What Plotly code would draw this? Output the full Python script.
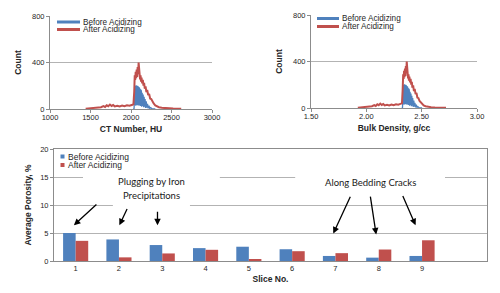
import plotly.graph_objects as go

W, H = 500, 293
BLUE = "#4F81BD"
RED = "#C0504D"
GRID = "#b3b3b3"
AXIS = "#8c8c8c"
TXT = "#262626"
FONT = "Liberation Sans"

# ---------------- data: CT histogram (After Acidizing) ----------------
AFTER_HU = [1440, 1480, 1520, 1560, 1600, 1630, 1660, 1680, 1700, 1720, 1740, 1760,
            1780, 1800, 1830, 1860, 1890, 1920, 1950, 1980, 2010, 2030, 2040, 2046,
            2052, 2058, 2064, 2070, 2076, 2082, 2088, 2094, 2100, 2106, 2112, 2118,
            2124, 2130, 2138, 2146, 2154, 2162, 2170, 2180, 2190, 2200, 2212, 2224,
            2236, 2250, 2265, 2280, 2300, 2320, 2345, 2380, 2420, 2470, 2520, 2570, 2620]
AFTER_DENS = [1.923, 1.950, 1.977, 2.004, 2.031, 2.051, 2.072, 2.085, 2.099, 2.112, 2.126, 2.139,
              2.153, 2.166, 2.187, 2.207, 2.227, 2.247, 2.268, 2.288, 2.308, 2.322, 2.328, 2.333,
              2.337, 2.341, 2.345, 2.349, 2.353, 2.357, 2.361, 2.365, 2.369, 2.373, 2.377, 2.381,
              2.385, 2.389, 2.395, 2.400, 2.406, 2.411, 2.416, 2.423, 2.430, 2.437, 2.445, 2.453,
              2.461, 2.471, 2.481, 2.491, 2.504, 2.518, 2.535, 2.558, 2.585, 2.619, 2.653, 2.687, 2.720]
AFTER_COUNT = [3, 5, 4, 8, 10, 15, 25, 18, 32, 24, 38, 26,
               34, 22, 28, 22, 30, 24, 32, 28, 35, 40, 150, 290,
               250, 320, 265, 340, 275, 360, 300, 400, 305, 330, 255, 290,
               235, 270, 220, 250, 200, 225, 175, 195, 145, 165, 120, 130,
               90, 85, 60, 48, 30, 22, 15, 10, 7, 5, 4, 3, 2]

# ---------------- data: CT histogram (Before Acidizing) ----------------
BEFORE_HU = [2030, 2038, 2044, 2048, 2052, 2056, 2060, 2064, 2068, 2072, 2076, 2080,
             2084, 2088, 2092, 2096, 2100, 2104, 2108, 2112, 2116, 2120, 2124, 2128,
             2132, 2138, 2144, 2150, 2156, 2162, 2168, 2174, 2180, 2188, 2196, 2204,
             2212, 2222, 2232, 2244, 2258, 2275, 2300]
BEFORE_DENS = [2.322, 2.327, 2.331, 2.334, 2.337, 2.339, 2.342, 2.345, 2.347, 2.350, 2.353, 2.355,
               2.358, 2.361, 2.364, 2.366, 2.369, 2.372, 2.374, 2.377, 2.380, 2.383, 2.385, 2.388,
               2.391, 2.395, 2.399, 2.403, 2.407, 2.411, 2.415, 2.419, 2.423, 2.429, 2.434, 2.439,
               2.445, 2.452, 2.458, 2.466, 2.476, 2.487, 2.504]
BEFORE_COUNT = [0, 5, 120, 200, 40, 205, 30, 205, 45, 200, 35, 200,
                40, 195, 30, 190, 35, 185, 30, 175, 25, 165, 30, 155,
                20, 140, 25, 125, 15, 105, 20, 85, 10, 65, 12, 45,
                6, 28, 4, 12, 3, 2, 0]

# ---------------- data: porosity per slice ----------------
SLICE_NUM = [1, 2, 3, 4, 5, 6, 7, 8, 9]
SLICE_LABELS = ["1", "2", "3", "4", "5", "6", "7", "8", "9"]
POROSITY_BEFORE = [5.0, 3.85, 2.85, 2.3, 2.55, 2.1, 0.9, 0.6, 0.9]
POROSITY_AFTER = [3.6, 0.65, 1.35, 2.0, 0.3, 1.75, 1.4, 2.05, 3.7]
SERIES_NAMES = ["Before Acidizing", "After Acidizing"]

OFF = 8  # page body offset of the screenshot


def px(x):
    return (x - OFF) / W


def py(y):
    return 1 - (y - OFF) / H


fig = go.Figure()

# top-left: CT number
fig.add_trace(go.Scatter(x=BEFORE_HU, y=BEFORE_COUNT, mode="lines", name=SERIES_NAMES[0],
                         line=dict(color=BLUE, width=1.3), xaxis="x", yaxis="y", showlegend=False))
fig.add_trace(go.Scatter(x=AFTER_HU, y=AFTER_COUNT, mode="lines", name=SERIES_NAMES[1],
                         line=dict(color=RED, width=2), xaxis="x", yaxis="y", showlegend=False))
# top-right: bulk density
fig.add_trace(go.Scatter(x=BEFORE_DENS, y=BEFORE_COUNT, mode="lines", name=SERIES_NAMES[0],
                         line=dict(color=BLUE, width=1.3), xaxis="x2", yaxis="y2", showlegend=False))
fig.add_trace(go.Scatter(x=AFTER_DENS, y=AFTER_COUNT, mode="lines", name=SERIES_NAMES[1],
                         line=dict(color=RED, width=2), xaxis="x2", yaxis="y2", showlegend=False))
# bottom: porosity bars
fig.add_trace(go.Bar(x=SLICE_NUM, y=POROSITY_BEFORE, name=SERIES_NAMES[0], marker_color=BLUE,
                     marker_line_width=0, xaxis="x3", yaxis="y3", showlegend=False))
fig.add_trace(go.Bar(x=SLICE_NUM, y=POROSITY_AFTER, name=SERIES_NAMES[1], marker_color=RED,
                     marker_line_width=0, xaxis="x3", yaxis="y3", showlegend=False))

tickfont = dict(family=FONT, size=7.5, color=TXT)
titlefont = dict(family=FONT, size=8.5, color=TXT)

common_x = dict(showline=True, linecolor=AXIS, linewidth=1, ticks="outside", ticklen=3,
                tickcolor=AXIS, showgrid=False, zeroline=False, tickfont=tickfont,
                automargin=False, ticklabelstandoff=-2)
common_y = dict(showline=True, linecolor=AXIS, linewidth=1, ticks="outside", ticklen=3,
                tickcolor=AXIS, showgrid=True, gridcolor=GRID, gridwidth=1, zeroline=False,
                tickfont=tickfont, automargin=False)

fig.update_layout(
    width=W, height=H, margin=dict(l=0, r=0, t=0, b=0),
    paper_bgcolor="white", plot_bgcolor="white",
    barmode="group", bargap=0.42, bargroupgap=0,
    showlegend=False,
    xaxis=dict(domain=[px(50), px(212)], range=[1000, 3000], dtick=500, anchor="y",
               title=dict(text="<b>CT Number, HU</b>", font=titlefont, standoff=5), **common_x),
    yaxis=dict(domain=[py(109), py(16)], range=[0, 800], dtick=400, anchor="x",
               title=dict(text="<b>Count</b>", font=titlefont, standoff=9), **common_y),
    xaxis2=dict(domain=[px(311), px(477)], range=[1.5, 3.0], dtick=0.5, tickformat=".2f",
                anchor="y2",
                title=dict(text="<b>Bulk Density, g/cc</b>", font=titlefont, standoff=5), **common_x),
    yaxis2=dict(domain=[py(108), py(15)], range=[0, 800], dtick=400, anchor="x2",
                title=dict(text="<b>Count</b>", font=titlefont, standoff=9), **common_y),
    xaxis3=dict(domain=[px(54), px(487)], range=[0.5, 10.5], anchor="y3",
                tickvals=SLICE_NUM, ticktext=SLICE_LABELS, showline=True, linecolor=AXIS,
                mirror=True, ticks="", showgrid=False, zeroline=False, tickfont=tickfont,
                automargin=False,
                title=dict(text="<b>Slice No.</b>", font=titlefont, standoff=4)),
    xaxis4=dict(domain=[px(54), px(487)], range=[0.5, 10.5], anchor="y3", overlaying="x3",
                side="bottom", tickvals=[0.5, 1.5, 2.5, 3.5, 4.5, 5.5, 6.5, 7.5, 8.5, 9.5, 10.5],
                showticklabels=False, ticks="outside", ticklen=4, tickcolor=AXIS,
                showline=False, showgrid=False, zeroline=False, automargin=False),
    yaxis3=dict(domain=[py(261), py(149)], range=[0, 20], dtick=5, anchor="x3", mirror=True,
                title=dict(text="<b>Average Porosity, %</b>", font=titlefont, standoff=7),
                **common_y),
)

shapes = []
annotations = []

# ---- legends of the two histograms ----
for (x0, x1, ys) in [(57, 80, (22, 29.5)), (317, 339, (18.5, 26.5))]:
    for name, color, yy in zip(SERIES_NAMES, [BLUE, RED], ys):
        shapes.append(dict(type="line", xref="paper", yref="paper", x0=px(x0), x1=px(x1),
                           y0=py(yy), y1=py(yy), line=dict(color=color, width=3)))
        annotations.append(dict(xref="paper", yref="paper", x=px(x1 + 1), y=py(yy), text=name,
                                showarrow=False, xanchor="left", yanchor="middle",
                                font=dict(family=FONT, size=8.2, color=TXT)))

# ---- white boxes behind bottom annotations (break gridlines) ----
for (xa, xb, ya, yb) in [(1.17, 4.33, 13.4, 16.6), (1.86, 3.64, 9.8, 12.66), (6.07, 9.53, 13.4, 16.6)]:
    shapes.append(dict(type="rect", xref="x3", yref="y3", x0=xa, x1=xb, y0=ya, y1=yb,
                       fillcolor="white", line=dict(width=0), layer="between"))

# ---- bottom legend ----
for name, color, yy in zip(SERIES_NAMES, [BLUE, RED], (156.5, 165)):
    shapes.append(dict(type="rect", xref="paper", yref="paper", x0=px(60.5), x1=px(64.5),
                       y0=py(yy + 2), y1=py(yy - 2), fillcolor=color, line=dict(width=0)))
    annotations.append(dict(xref="paper", yref="paper", x=px(65.5), y=py(yy), text=name,
                            showarrow=False, xanchor="left", yanchor="middle",
                            font=dict(family=FONT, size=8.5, color=TXT)))

# ---- text annotations ----
ann_font = dict(family="Lato", size=9.5, color="#1a1a1a")
for text, x, y in [("Plugging by Iron", 2.76, 14.15), ("Precipitations", 2.76, 11.76),
                   ("Along Bedding Cracks", 7.81, 13.97)]:
    annotations.append(dict(xref="x3", yref="y3", x=x, y=y, text=text, showarrow=False,
                            xanchor="center", yanchor="middle", font=ann_font))

# ---- arrows ----
for hx, hy, ax, ay in [(0.96, 6.39, 24, -22), (2.01, 6.39, 8.4, -17.7), (2.89, 6.39, 0, -15),
                       (6.95, 4.9, 17.7, -38.3), (7.94, 4.73, -6, -39.3), (8.85, 6.39, -13.4, -30.7)]:
    annotations.append(dict(xref="x3", yref="y3", x=hx, y=hy, ax=ax, ay=ay, text="",
                            showarrow=True, arrowhead=2, arrowsize=1, arrowwidth=1.3,
                            arrowcolor="black", standoff=0, startstandoff=0))

fig.update_layout(shapes=shapes, annotations=annotations)
fig.write_html("out.html")
